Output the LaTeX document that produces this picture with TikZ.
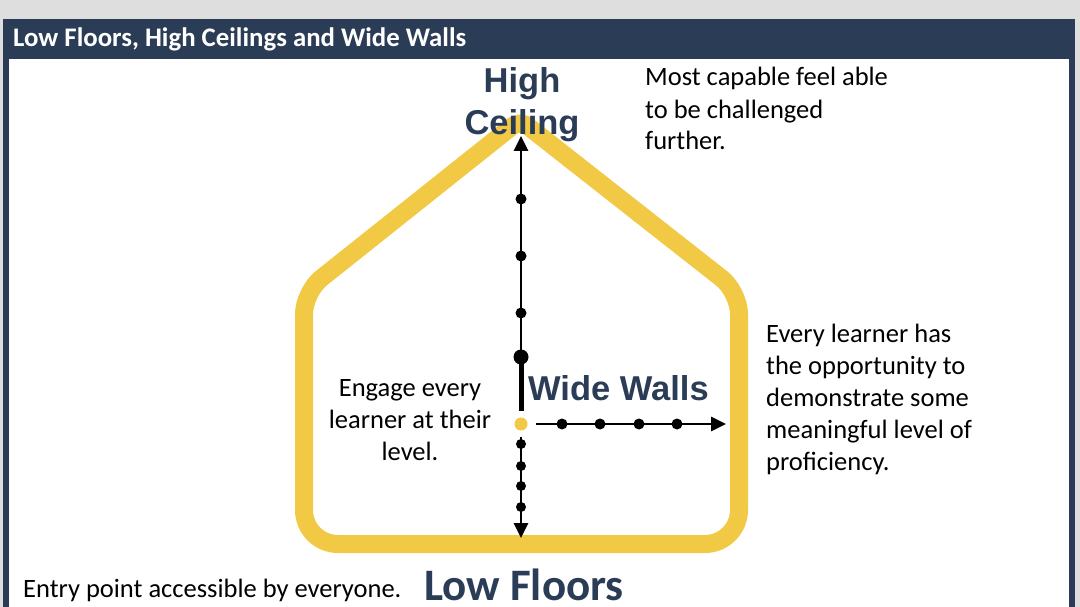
\documentclass[tikz,border=0pt]{standalone}
\usepackage{fontspec}
\setmainfont{Carlito}
\newfontfamily\arialfont{Liberation Sans}
\usetikzlibrary{arrows.meta}
\definecolor{navy}{HTML}{2B3C56}
\definecolor{gold}{HTML}{F2C944}
\definecolor{bggray}{HTML}{DEDEDE}
\begin{document}
\begin{tikzpicture}[x=1pt,y=-1pt,
  smalldot/.style={circle,fill=black,inner sep=0pt,minimum size=11pt},
  bigdot/.style={circle,fill=black,inner sep=0pt,minimum size=15pt},
  golddot/.style={circle,fill=gold,inner sep=0pt,minimum size=13pt},
  axisarrow/.style={line width=2.8pt,-{Triangle[length=15pt,width=14pt]}},
  body/.style={font=\fontsize{26.5}{32}\selectfont,inner sep=0pt,text=black},
  bigtitle/.style={font=\arialfont\bfseries\fontsize{34.5}{42}\selectfont,text=navy,inner sep=0pt},
  housewall/.style={draw=gold,line width=18pt}
]
\useasboundingbox (0,0) rectangle (1080,607);
\fill[bggray] (0,0) rectangle (1080,607);
\fill[navy] (3,19) rectangle (1075,607);
\fill[white] (9,59) rectangle (1069,607);
\node[anchor=base west,text=white,inner sep=0pt,font=\bfseries\fontsize{26.8}{30}\selectfont] (title) at (13,47) {Low Floors, High Ceilings and Wide Walls};

% house outline
\draw[housewall] (520,544) [rounded corners=34pt] -- (739,544) [rounded corners=22pt] -- (739,292) [rounded corners=10pt] -- (520,120) [rounded corners=22pt] -- (304,292) [rounded corners=34pt] -- (304,544) -- cycle;

% vertical axis (upwards)
\node[bigdot] (vb) at (521,357) {};
\node[smalldot] (v1) at (521,313) {};
\node[smalldot] (v2) at (521,256) {};
\node[smalldot] (v3) at (521,199) {};
\coordinate (vtop) at (521,136);
\draw[axisarrow] (vb.center) -- (vtop);

% origin
\node[golddot] (origin) at (521,424) {};
\coordinate (thickend) at (521,411);
\draw[line width=5pt] (vb.center) -- (thickend);

% horizontal axis
\node[smalldot] (h1) at (562,424) {};
\node[smalldot] (h2) at (600,424) {};
\node[smalldot] (h3) at (639,424) {};
\node[smalldot] (h4) at (677,424) {};
\coordinate (htip) at (726,424);
\draw[axisarrow,shorten <=8pt] (origin) -- (htip);

% downward axis
\node[smalldot,minimum size=10pt] (d1) at (521,444) {};
\node[smalldot,minimum size=10pt] (d2) at (521,466) {};
\node[smalldot,minimum size=10pt] (d3) at (521,486) {};
\node[smalldot,minimum size=10pt] (d4) at (521,507) {};
\coordinate (dtip) at (521,538);
\draw[axisarrow,shorten <=6pt] (origin) -- (dtip);

% labels
\node[bigtitle,anchor=base,align=center] (ceiling) at (522,135) {High\\Ceiling};
\node[bigtitle,anchor=base west] (walls) at (528,400) {Wide Walls};
\node[anchor=base west,inner sep=0pt,text=navy,font=\bfseries\fontsize{45}{50}\selectfont] (floors) at (424,600) {Low Floors};

\node[body,anchor=base west,align=left] (capable) at (645,150) {Most capable feel able\\to be challenged\\further.};
\node[body,anchor=base west,align=left] (every) at (766,470) {Every learner has\\the opportunity to\\demonstrate some\\meaningful level of\\proficiency.};
\node[body,anchor=base,align=center] (engage) at (410,460) {Engage every\\learner at their\\level.};
\node[body,anchor=base west] (entry) at (23,597) {Entry point accessible by everyone.};
\end{tikzpicture}
\end{document}
